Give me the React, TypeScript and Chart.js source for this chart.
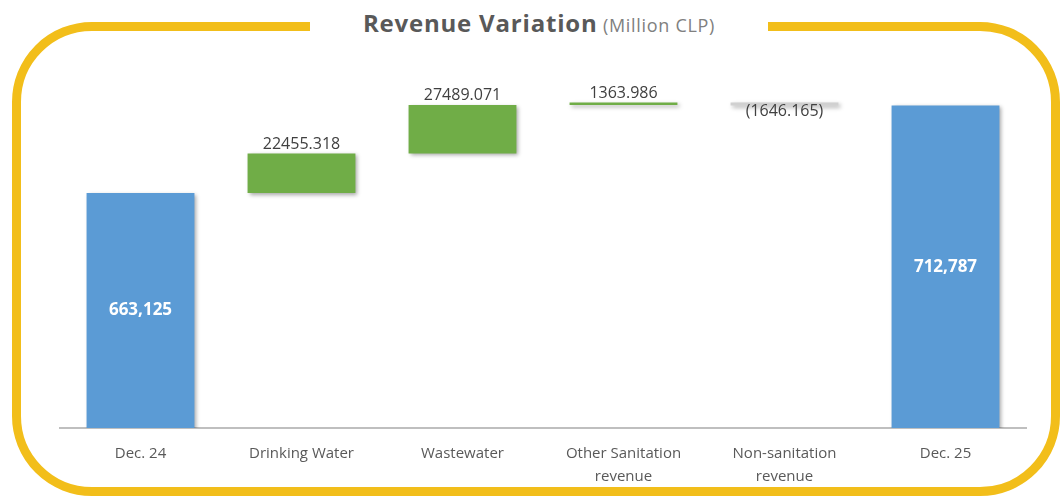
import React, { useEffect, useRef } from 'react';
import { Chart, registerables } from 'chart.js';

Chart.register(...registerables);

// ---- data ----
const categories: string[][] = [
  ['Dec. 24'],
  ['Drinking Water'],
  ['Wastewater'],
  ['Other Sanitation', 'revenue'],
  ['Non-sanitation', 'revenue'],
  ['Dec. 25'],
];
const startTotal = 663125;
const changes = [22455.318, 27489.071, 1363.986, -1646.165];
const endTotal = 712787;

const yMin = 530000;
const yMax = 738500;

// ---- derived waterfall ----
type Kind = 'total' | 'up' | 'down';
const kinds: Kind[] = [];
const barData: (number | [number, number])[] = [];
const barLow: number[] = [];
const barHigh: number[] = [];
const labelTexts: string[] = [];

const fmtThousands = (v: number) => String(Math.round(v)).replace(/\B(?=(\d{3})+(?!\d))/g, ',');

barData.push(startTotal);
kinds.push('total');
barLow.push(yMin);
barHigh.push(startTotal);
labelTexts.push(fmtThousands(startTotal));
let running = startTotal;
changes.forEach((c) => {
  const next = running + c;
  barData.push([running, next]);
  kinds.push(c >= 0 ? 'up' : 'down');
  barLow.push(Math.min(running, next));
  barHigh.push(Math.max(running, next));
  labelTexts.push(c >= 0 ? c.toFixed(3) : `(${Math.abs(c).toFixed(3)})`);
  running = next;
});
barData.push(endTotal);
kinds.push('total');
barLow.push(yMin);
barHigh.push(endTotal);
labelTexts.push(fmtThousands(endTotal));

const colorFor: Record<Kind, string> = {
  total: '#5B9BD5',
  up: '#70AD47',
  down: '#D0D0D0',
};

const shadowPlugin = {
  id: 'barShadow',
  beforeDatasetDraw(chart: any) {
    const ctx = chart.ctx;
    ctx.save();
    ctx.shadowColor = 'rgba(0,0,0,0.35)';
    ctx.shadowBlur = 4;
    ctx.shadowOffsetX = 2;
    ctx.shadowOffsetY = 2;
  },
  afterDatasetDraw(chart: any) {
    chart.ctx.restore();
  },
};

const labelPlugin = {
  id: 'wfLabels',
  afterDraw(chart: any) {
    const ctx = chart.ctx;
    const meta = chart.getDatasetMeta(0);
    const yScale = chart.scales.y;
    meta.data.forEach((el: any, i: number) => {
      const x = el.x;
      const top = yScale.getPixelForValue(barHigh[i]);
      const bottom = yScale.getPixelForValue(barLow[i]);
      ctx.save();
      ctx.textAlign = 'center';
      const kind = kinds[i];
      if (kind === 'total') {
        ctx.font = 'bold 17px "Open Sans", sans-serif';
        ctx.fillStyle = '#FFFFFF';
        ctx.textBaseline = 'middle';
        ctx.fillText(labelTexts[i], x, (top + bottom) / 2);
      } else if (kind === 'up') {
        ctx.font = '16px "Open Sans", sans-serif';
        ctx.fillStyle = '#404040';
        ctx.textBaseline = 'bottom';
        ctx.fillText(labelTexts[i], x, top - 1);
      } else {
        ctx.font = '16px "Open Sans", sans-serif';
        ctx.fillStyle = '#404040';
        ctx.textBaseline = 'top';
        ctx.fillText(labelTexts[i], x, bottom - 2);
      }
      ctx.restore();
    });
  },
};

export default function App() {
  const canvasRef = useRef<HTMLCanvasElement | null>(null);

  useEffect(() => {
    if (!canvasRef.current) return;
    const chart = new Chart(canvasRef.current, {
      type: 'bar',
      data: {
        labels: categories,
        datasets: [
          {
            data: barData as any,
            backgroundColor: kinds.map((k) => colorFor[k]),
            borderWidth: 0,
            barPercentage: 0.67,
            categoryPercentage: 1,
          },
        ],
      },
      options: {
        responsive: false,
        animation: false,
        layout: { padding: { left: 60, right: 36, top: 20, bottom: 9 } },
        plugins: {
          legend: { display: false },
          tooltip: { enabled: false },
          title: { display: false },
        },
        scales: {
          x: {
            grid: { display: false, drawTicks: false },
            border: { display: true, color: '#BFBFBF', width: 2 },
            ticks: {
              color: '#595959',
              font: { family: '"Open Sans"', size: 15, lineHeight: 1.53 },
              padding: 14,
              maxRotation: 0,
              autoSkip: false,
            },
          },
          y: {
            display: false,
            min: yMin,
            max: yMax,
          },
        },
      },
      plugins: [shadowPlugin, labelPlugin],
    });
    return () => chart.destroy();
  }, []);

  return (
    <div
      style={{
        position: 'fixed',
        left: 0,
        top: 0,
        width: 1062,
        height: 496,
        background: '#FFFFFF',
        overflow: 'hidden',
      }}
    >
      <div
        style={{
          position: 'absolute',
          left: 12,
          top: 22,
          width: 1048,
          height: 474,
          boxSizing: 'border-box',
          border: '9px solid #F2BE1A',
          borderRadius: 80,
        }}
      />
      <div
        style={{
          position: 'absolute',
          left: 310,
          top: 5,
          width: 458,
          height: 36,
          lineHeight: '36px',
          background: '#FFFFFF',
          textAlign: 'center',
          whiteSpace: 'nowrap',
          fontFamily: '"Open Sans", sans-serif',
        }}
      >
        <span style={{ fontSize: 24, fontWeight: 700, color: '#595959', letterSpacing: 0.8 }}>
          Revenue Variation
        </span>
        <span style={{ fontSize: 18, color: '#808080', letterSpacing: 0.7 }}> (Million CLP)</span>
      </div>
      <div style={{ position: 'absolute', left: 0, top: 40, width: 1062, height: 471 }}>
        <canvas ref={canvasRef} width={1062} height={471} />
      </div>
    </div>
  );
}
